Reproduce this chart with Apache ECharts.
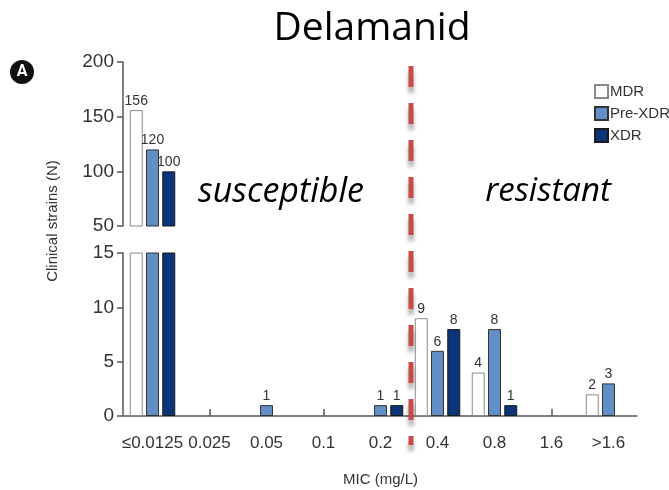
<!DOCTYPE html>
<html>
<head>
<meta charset="utf-8">
<script src="https://cdn.jsdelivr.net/npm/echarts@6/dist/echarts.min.js"></script>
<style>
  html, body { margin: 0; padding: 0; background: #fff; }
  #main { width: 669px; height: 490px; }
</style>
</head>
<body>
<div id="main"></div>
<script>
// MIC categories
const categories = ['≤0.0125', '0.025', '0.05', '0.1', '0.2', '0.4', '0.8', '1.6', '>1.6']
// strain counts
const mdr = [156, 0, 0, 0, 0, 9, 4, 0, 2]
const preXdr = [120, 0, 1, 0, 1, 6, 8, 0, 3]
const xdr = [100, 0, 0, 0, 1, 8, 1, 0, 0]

const narrow = '"Liberation Sans", Arial, sans-serif'

const chart = echarts.init(document.getElementById('main'))

// 两个 grid 做断轴：上面 50-200，下面 0-15
const styles = [
  { name: 'MDR', data: mdr, color: '#ffffff', border: '#8a8a8a' },
  { name: 'Pre-XDR', data: preXdr, color: '#5f8fc4', border: '#333333' },
  { name: 'XDR', data: xdr, color: '#0b3479', border: '#1a1a1a' }
]

function makeSeries(gridIndex, lo, hi) {
  return styles.map(s => ({
    name: s.name,
    type: 'bar',
    xAxisIndex: gridIndex,
    yAxisIndex: gridIndex,
    // 0 不画
    data: s.data.map(v => v === 0 ? '-' : v),
    barWidth: 13,
    barGap: '25%',
    clip: true,
    itemStyle: { color: s.color, borderColor: s.border, borderWidth: 1 },
    label: {
      show: true,
      position: 'top',
      distance: 2,
      fontFamily: narrow,
      fontSize: 14,
      color: '#333',
      formatter: p => (p.value > lo && p.value <= hi) ? String(p.value) : ''
    }
  }))
}

const axisColor = '#555'

const option = {
  animation: false,
  textStyle: { fontFamily: narrow },
  legend: {
    orient: 'vertical',
    left: 589,
    top: 79,
    icon: 'rect',
    itemWidth: 13,
    itemHeight: 13,
    itemGap: 7,
    textStyle: { fontFamily: narrow, fontSize: 15, color: '#333', padding: [0, 0, 0, -3] },
    data: styles.map(s => s.name)
  },
  grid: [
    { left: 124, right: 32, top: 62, height: 164 },
    { left: 124, right: 32, top: 253, height: 163 }
  ],
  xAxis: [
    { type: 'category', gridIndex: 0, data: categories, show: false },
    {
      type: 'category', gridIndex: 1, data: categories,
      axisLine: { lineStyle: { color: axisColor, width: 1.5 } },
      axisTick: { show: true, alignWithLabel: true, inside: true, length: 7, lineStyle: { color: axisColor, width: 1.5 } },
      axisLabel: { interval: 0, fontFamily: narrow, fontSize: 17, color: '#333', margin: 19 },
      name: 'MIC (mg/L)',
      nameLocation: 'middle',
      nameGap: 56,
      nameTextStyle: { fontFamily: narrow, fontSize: 15, color: '#333' }
    }
  ],
  yAxis: [
    {
      type: 'value', gridIndex: 0, min: 50, max: 200, interval: 50,
      offset: 1,
      splitLine: { show: false },
      axisLine: { show: true, lineStyle: { color: axisColor, width: 1.5 } },
      axisTick: { show: true, length: 6, lineStyle: { color: axisColor, width: 1.5 } },
      axisLabel: { fontFamily: narrow, fontSize: 19, color: '#333', margin: 9 }
    },
    {
      type: 'value', gridIndex: 1, min: 0, max: 15, interval: 5,
      offset: 1,
      splitLine: { show: false },
      axisLine: { show: true, lineStyle: { color: axisColor, width: 1.5 } },
      axisTick: { show: true, length: 6, lineStyle: { color: axisColor, width: 1.5 } },
      axisLabel: { fontFamily: narrow, fontSize: 19, color: '#333', margin: 9 }
    }
  ],
  series: [...makeSeries(0, 50, 200), ...makeSeries(1, 0, 15)]
}

chart.setOption(option)

// 分界线放在 0.2 和 0.4 之间
const x1 = chart.convertToPixel({ xAxisIndex: 1 }, categories[4])
const x2 = chart.convertToPixel({ xAxisIndex: 1 }, categories[5])
const cutX = (x1 + x2) / 2 + 2

chart.setOption({
  graphic: [
    {
      type: 'text', x: 372, y: 29,
      style: { text: 'Delamanid', fontFamily: '"Open Sans", sans-serif', fontSize: 39, fill: '#000', align: 'center', verticalAlign: 'middle' }
    },
    {
      type: 'circle', shape: { cx: 22, cy: 72, r: 12 }, style: { fill: '#111' }
    },
    {
      type: 'text', x: 22, y: 72,
      style: { text: 'A', fontFamily: 'Roboto, sans-serif', fontWeight: 'bold', fontSize: 16, fill: '#fff', align: 'center', verticalAlign: 'middle' }
    },
    {
      type: 'text', x: 53, y: 221, rotation: Math.PI / 2,
      style: { text: 'Clinical strains (N)', fontFamily: narrow, fontSize: 15, fill: '#333', align: 'center', verticalAlign: 'middle' }
    },
    {
      type: 'text', x: 281, y: 192,
      style: { text: 'susceptible', fontFamily: '"Open Sans", sans-serif', fontStyle: 'italic', fontSize: 34, fill: '#000', align: 'center', verticalAlign: 'middle' }
    },
    {
      type: 'text', x: 548, y: 192,
      style: { text: 'resistant', fontFamily: '"Open Sans", sans-serif', fontStyle: 'italic', fontSize: 33, fill: '#000', align: 'center', verticalAlign: 'middle' }
    },
    {
      type: 'line', z: 100,
      shape: { x1: cutX, y1: 66, x2: cutX, y2: 445 },
      style: {
        stroke: '#c94a4a', lineWidth: 5, lineDash: [21, 16],
        shadowColor: 'rgba(0,0,0,0.35)', shadowBlur: 4, shadowOffsetY: 6
      }
    }
  ]
})
</script>
</body>
</html>
